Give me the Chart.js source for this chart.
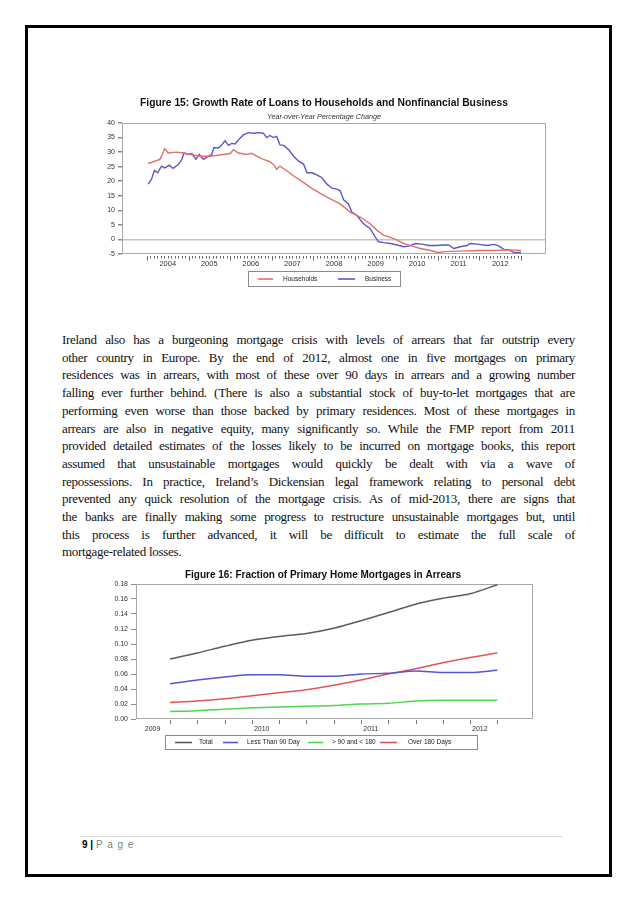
<!DOCTYPE html>
<html><head><meta charset="utf-8">
<script src="https://cdn.jsdelivr.net/npm/chart.js@4/dist/chart.umd.min.js"></script>
<style>
html,body{margin:0;padding:0;background:#fff;}
#page{position:relative;width:638px;height:903px;overflow:hidden;background:#fff;}
#frame{position:absolute;left:25px;top:25px;width:581px;height:846px;border:3px solid #000;}
#c1wrap{position:absolute;left:90px;top:88px;width:468px;height:210px;}
#c2wrap{position:absolute;left:100px;top:562px;width:446px;height:195px;}
#text{position:absolute;left:62px;top:331px;width:513px;font-family:"Liberation Serif","Times New Roman",serif;font-size:13px;line-height:17.7px;color:#111;letter-spacing:-0.3px;}
#text div{text-align:justify;text-align-last:justify;}
#text div.last{text-align-last:left;}
#footline{position:absolute;left:80px;top:836px;width:483px;height:1px;background:#d9d9d9;}
#foot{position:absolute;left:82px;top:839px;font-family:"Liberation Sans",Arial,sans-serif;font-size:10px;color:#000;}
#foot span{color:#7f7f7f;letter-spacing:1px;}
</style></head>
<body><div id="page">
<div id="frame"></div>
<div id="c1wrap"><canvas id="c1" width="468" height="210"></canvas></div>
<div id="text">
<div>Ireland also has a burgeoning mortgage crisis with levels of arrears that far outstrip every</div>
<div>other country in Europe. By the end of 2012, almost one in five mortgages on primary</div>
<div>residences was in arrears, with most of these over 90 days in arrears and a growing number</div>
<div>falling ever further behind. (There is also a substantial stock of buy-to-let mortgages that are</div>
<div>performing even worse than those backed by primary residences. Most of these mortgages in</div>
<div>arrears are also in negative equity, many significantly so. While the FMP report from 2011</div>
<div>provided detailed estimates of the losses likely to be incurred on mortgage books, this report</div>
<div>assumed that unsustainable mortgages would quickly be dealt with via a wave of</div>
<div>repossessions. In practice, Ireland’s Dickensian legal framework relating to personal debt</div>
<div>prevented any quick resolution of the mortgage crisis. As of mid-2013, there are signs that</div>
<div>the banks are finally making some progress to restructure unsustainable mortgages but, until</div>
<div>this process is further advanced, it will be difficult to estimate the full scale of</div>
<div class="last">mortgage-related losses.</div>
</div>
<div id="c2wrap"><canvas id="c2" width="446" height="195"></canvas></div>
<div id="footline"></div>
<div id="foot"><b>9 |</b> <span>P a g e</span></div>
</div>
<script>
// ---------- Figure 15 data ----------
const fig15Title = 'Figure 15: Growth Rate of Loans to Households and Nonfinancial Business';
const fig15Subtitle = 'Year-over-Year Percentage Change';
const fig15YearLabels = ['2004','2005','2006','2007','2008','2009','2010','2011','2012'];
const fig15SeriesNames = ['Households', 'Business'];
const householdsX = [2004.03,2004.31,2004.35,2004.43,2004.51,2004.71,2004.88,2005.04,2005.28,2005.52,2005.84,2006.00,2006.08,2006.20,2006.40,2006.52,2006.64,2006.80,2006.96,2007.08,2007.12,2007.20,2007.37,2007.53,2007.77,2007.93,2008.17,2008.41,2008.65,2008.89,2009.13,2009.37,2009.53,2009.69,2009.86,2010.02,2010.18,2010.34,2010.58,2010.82,2011.02,2011.14,2011.54,2011.94,2012.35,2012.75,2013.00];
const householdsY = [26.1,27.5,28.6,31.2,29.7,30.0,29.7,29.2,28.6,28.6,29.2,29.5,30.8,29.7,29.2,29.6,28.6,27.5,26.7,25.2,24.1,25.2,23.5,21.8,19.5,17.9,15.8,13.9,12.2,9.4,7.7,5.4,3.2,1.5,0.7,-0.2,-1.4,-2.1,-3.1,-3.8,-4.5,-4.2,-4.0,-3.8,-3.8,-3.6,-3.8];
const businessX = [2004.03,2004.11,2004.18,2004.26,2004.35,2004.43,2004.54,2004.63,2004.76,2004.84,2004.89,2005.00,2005.08,2005.18,2005.26,2005.36,2005.48,2005.56,2005.61,2005.72,2005.80,2005.88,2005.96,2006.04,2006.12,2006.24,2006.32,2006.44,2006.56,2006.68,2006.80,2006.88,2006.96,2007.04,2007.12,2007.20,2007.29,2007.41,2007.53,2007.65,2007.77,2007.85,2007.97,2008.05,2008.13,2008.21,2008.33,2008.45,2008.57,2008.65,2008.73,2008.85,2008.93,2009.05,2009.21,2009.37,2009.49,2009.57,2009.69,2009.86,2010.02,2010.18,2010.30,2010.46,2010.62,2010.78,2010.98,2011.14,2011.26,2011.38,2011.54,2011.70,2011.78,2011.94,2012.18,2012.35,2012.47,2012.59,2012.71,2012.83,2013.00];
const businessY = [19.0,20.7,23.7,22.9,25.2,24.6,25.5,24.4,25.8,27.5,29.7,29.2,29.5,27.5,29.2,27.5,28.6,29.2,31.6,31.4,32.5,33.9,32.3,33.0,32.8,34.8,35.9,36.7,36.5,36.7,36.5,35.0,35.7,35.0,35.4,32.5,32.3,30.8,28.6,26.9,25.8,22.9,22.9,22.4,21.8,21.2,19.0,17.6,17.3,16.7,13.6,12.2,9.4,8.2,5.4,3.7,0.9,-0.8,-1.1,-1.4,-1.9,-2.5,-2.3,-1.4,-1.6,-2.1,-2.1,-1.9,-1.9,-3.1,-2.5,-2.1,-1.4,-1.6,-2.1,-1.7,-2.3,-3.4,-3.6,-4.5,-4.5];

// ---------- Figure 16 data ----------
const fig16Title = 'Figure 16: Fraction of Primary Home Mortgages in Arrears';
const fig16YearLabels = ['2009','2010','2011','2012'];
const fig16SeriesNames = ['Total', 'Less Than 90 Day', '> 90 and < 180', 'Over 180 Days'];
const mortDates = [2009.16,2009.41,2009.66,2009.91,2010.16,2010.41,2010.66,2010.91,2011.16,2011.41,2011.66,2011.91,2012.16];
const totalArrears = [0.080,0.088,0.097,0.105,0.110,0.114,0.121,0.131,0.142,0.153,0.161,0.167,0.179];
const lessThan90 = [0.047,0.052,0.056,0.059,0.059,0.057,0.057,0.060,0.061,0.064,0.062,0.062,0.065];
const from90to180 = [0.010,0.011,0.013,0.015,0.016,0.017,0.018,0.020,0.021,0.024,0.025,0.025,0.025];
const over180 = [0.022,0.024,0.027,0.031,0.035,0.039,0.045,0.052,0.060,0.067,0.075,0.082,0.088];

const SANS = '"Liberation Sans", Arial, sans-serif';
const pts = (xs, ys) => xs.map((x, i) => ({x: x, y: ys[i]}));

function frameBox(color) {
  return { id: 'frameBox', beforeDatasetsDraw(chart) {
    const {ctx, chartArea: a} = chart;
    ctx.save(); ctx.strokeStyle = color; ctx.lineWidth = 1;
    ctx.strokeRect(Math.round(a.left) + 0.5, Math.round(a.top) + 0.5, Math.round(a.width) - 1, Math.round(a.height) - 1);
    ctx.restore();
  }};
}
function xMarks(values, isMajor, gap, minorLen, majorLen, color) {
  return { id: 'xMarks', afterDraw(chart) {
    const {ctx, chartArea: a} = chart; const xs = chart.scales.x;
    ctx.save(); ctx.strokeStyle = color; ctx.lineWidth = 1; ctx.beginPath();
    values.forEach((v, i) => {
      const px = Math.round(xs.getPixelForValue(v)) + 0.5;
      const len = isMajor(i) ? majorLen : minorLen;
      ctx.moveTo(px, a.bottom + gap); ctx.lineTo(px, a.bottom + gap + len);
    });
    ctx.stroke(); ctx.restore();
  }};
}
function boxLegend(box, items, font) {
  return { id: 'boxLegend', afterDraw(chart) {
    const ctx = chart.ctx; ctx.save();
    ctx.strokeStyle = '#8a8a8a'; ctx.lineWidth = 1;
    ctx.strokeRect(box.x + 0.5, box.y + 0.5, box.w, box.h);
    const cy = box.y + box.h / 2 + 0.5;
    chart.data.datasets.forEach((ds, i) => {
      const it = items[i];
      ctx.strokeStyle = ds.borderColor; ctx.lineWidth = 1.6;
      ctx.beginPath(); ctx.moveTo(it.lx, cy); ctx.lineTo(it.lx + it.lw, cy); ctx.stroke();
      ctx.fillStyle = '#222'; ctx.font = font; ctx.textBaseline = 'middle'; ctx.textAlign = 'left';
      ctx.fillText(ds.label, it.tx, cy);
    });
    ctx.restore();
  }};
}

// month tick values for Figure 15 axis
const fig15Months = [];
for (let m = 0; m <= 108; m++) fig15Months.push(2004 + m / 12);

new Chart(document.getElementById('c1'), {
  type: 'line',
  data: { datasets: [
    { label: fig15SeriesNames[0], data: pts(householdsX, householdsY), borderColor: '#e46f6c', borderWidth: 1.4, pointRadius: 0, tension: 0 },
    { label: fig15SeriesNames[1], data: pts(businessX, businessY), borderColor: '#5a58c8', borderWidth: 1.4, pointRadius: 0, tension: 0 }
  ]},
  options: {
    responsive: false, animation: false, devicePixelRatio: 1,
    layout: { padding: { left: 12, right: 12, top: 0, bottom: 26 } },
    plugins: {
      legend: { display: false }, tooltip: { enabled: false },
      title: { display: true, text: fig15Title, color: '#111', font: { family: SANS, size: 10.3, weight: 'bold' }, padding: { top: 8.8, bottom: 3.5 } },
      subtitle: { display: true, text: fig15Subtitle, color: '#333', font: { family: SANS, size: 7.2, style: 'italic' }, padding: { top: 0, bottom: 1.7 } }
    },
    scales: {
      x: { type: 'linear', min: 2003.4, max: 2013.6,
        afterBuildTicks: s => { s.ticks = fig15YearLabels.map(l => ({ value: Number(l) + 0.5 })); },
        ticks: { autoSkip: false, maxRotation: 0, padding: 5.5, color: '#333', font: { family: SANS, size: 7.5 }, callback: v => String(Math.floor(v)) },
        grid: { display: false, drawTicks: false }, border: { display: false },
        afterFit: s => { s.height = 18; } },
      y: { min: -5, max: 40,
        ticks: { stepSize: 5, padding: 3, color: '#333', font: { family: SANS, size: 7 } },
        grid: { drawOnChartArea: true, drawTicks: true, tickLength: 4, tickColor: '#8a8a8a', lineWidth: 1.5,
          color: c => (c.tick && c.tick.value === 0) ? '#c4c4c4' : 'rgba(0,0,0,0)' },
        border: { display: false },
        afterFit: s => { s.width = 20; } }
    }
  },
  plugins: [ frameBox('#a8a8a8'),
    xMarks(fig15Months, i => i % 12 === 0, 2, 2.5, 4.5, '#666'),
    boxLegend({ x: 158, y: 183, w: 152, h: 15 }, [{ lx: 168, lw: 15, tx: 193 }, { lx: 248, lw: 17, tx: 275 }], '6.5px ' + SANS) ]
});

new Chart(document.getElementById('c2'), {
  type: 'line',
  data: { datasets: [
    { label: fig16SeriesNames[0], data: pts(mortDates, totalArrears), borderColor: '#5c5c5c', borderWidth: 1.5, pointRadius: 0, cubicInterpolationMode: 'monotone' },
    { label: fig16SeriesNames[1], data: pts(mortDates, lessThan90), borderColor: '#5656d2', borderWidth: 1.5, pointRadius: 0, cubicInterpolationMode: 'monotone' },
    { label: fig16SeriesNames[2], data: pts(mortDates, from90to180), borderColor: '#4fd84f', borderWidth: 1.5, pointRadius: 0, cubicInterpolationMode: 'monotone' },
    { label: fig16SeriesNames[3], data: pts(mortDates, over180), borderColor: '#e25555', borderWidth: 1.5, pointRadius: 0, cubicInterpolationMode: 'monotone' }
  ]},
  options: {
    responsive: false, animation: false, devicePixelRatio: 1,
    layout: { padding: { left: 13, right: 13, top: 0, bottom: 24 } },
    plugins: {
      legend: { display: false }, tooltip: { enabled: false },
      title: { display: true, text: fig16Title, color: '#111', font: { family: SANS, size: 10, weight: 'bold' }, padding: { top: 7, bottom: 3 } }
    },
    scales: {
      x: { type: 'linear', min: 2008.848, max: 2012.487,
        afterBuildTicks: s => { s.ticks = fig16YearLabels.map(l => ({ value: Number(l) })); },
        ticks: { autoSkip: false, maxRotation: 0, padding: 5.8, color: '#333', font: { family: SANS, size: 7 }, callback: v => String(Math.round(v)) },
        grid: { display: false, drawTicks: false }, border: { display: false },
        afterFit: s => { s.height = 14; } },
      y: { min: 0, max: 0.18,
        ticks: { stepSize: 0.02, padding: 3, color: '#333', font: { family: SANS, size: 7 }, callback: v => Number(v).toFixed(2) },
        grid: { drawOnChartArea: false, drawTicks: true, tickLength: 5, tickColor: '#8a8a8a', color: '#8a8a8a' },
        border: { display: false },
        afterFit: s => { s.width = 23; } }
    }
  },
  plugins: [ frameBox('#a8a8a8'),
    xMarks(mortDates, () => false, 1, 4, 4, '#777'),
    boxLegend({ x: 65, y: 173, w: 312, h: 14 }, [{ lx: 75, lw: 17, tx: 99 }, { lx: 123, lw: 15, tx: 147 }, { lx: 208, lw: 15, tx: 232 }, { lx: 280, lw: 17, tx: 308 }], '6.5px ' + SANS) ]
});
</script>
</body></html>
